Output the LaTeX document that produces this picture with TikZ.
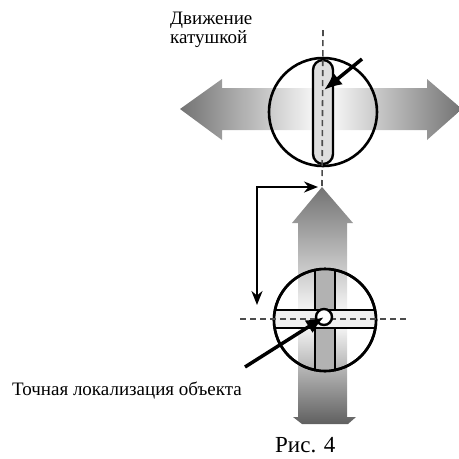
\documentclass[tikz,border=0pt]{standalone}
\usepackage{fontspec}
\setmainfont{Liberation Serif}
\usetikzlibrary{arrows.meta}
\begin{document}
\begin{tikzpicture}[x=1pt,y=-1pt,
  ring/.style={circle,draw,line width=2.6pt,inner sep=0pt,minimum size=#1},
  axis/.style={dashed,dash pattern=on 6pt off 4pt,gray!60!black,line width=1.6pt},
  ptr/.style={-{Latex[length=18pt,width=15pt]},line width=3.5pt},
  link/.style={{Stealth[length=14pt,width=11pt]}-{Stealth[length=14pt,width=11pt]},line width=2pt},
  lbl/.style={font=\fontsize{19}{19}\selectfont,align=left,inner sep=0pt}]
  \useasboundingbox (0,0) rectangle (459,459);
  % gorizontalnaya strelka
  \shade[left color=gray!90!black,right color=white]
    (180,109) -- (222,79) -- (222,88) -- (323,88) -- (323,130) -- (222,130) -- (222,140) -- cycle;
  \shade[right color=gray!90!black,left color=white]
    (462,109) -- (427,79) -- (427,88) -- (323,88) -- (323,130) -- (427,130) -- (427,140) -- cycle;
  % vertikalnaya strelka
  \coordinate (vtip) at (322,187);
  \shade[top color=gray!90!black,bottom color=white]
    (vtip) -- (353,223) -- (347,223) -- (347,320) -- (298,320) -- (298,223) -- (292,223) -- cycle;
  \shade[top color=white,bottom color=gray!75!black]
    (298,320) -- (347,320) -- (347,417) -- (356,417) -- (348,424) -- (302,424) -- (293,417) -- (298,417) -- cycle;
  % verkhnyaya katushka
  \draw[line width=2.4pt,fill=gray!25,rounded corners=10pt] (313,60) rectangle (333,164);
  \node[ring=108pt] (upper) at (323,112) {};
  \draw[axis] (323,30) -- (vtip);
  % nizhnyaya katushka
  \node[ring=102pt] (lower) at (325,320) {};
  \begin{scope}
    \clip (lower.center) circle (50pt);
    \draw[line width=2.4pt,fill=gray!60] (315,260) rectangle (335,380);
    \draw[line width=2.4pt,fill=gray!12] (265,310) rectangle (385,328);
  \end{scope}
  \node[ring=102pt] at (lower.center) {};
  \draw[axis] (240,319) -- (407,319);
  \node[circle,draw,line width=2.4pt,fill=white,minimum size=16pt,inner sep=0pt] (spot) at (324,317) {};
  % ukazateli
  \coordinate (p1) at (362,59);
  \coordinate (p2) at (245,367);
  \draw[ptr] (p1) -- (324,90);
  \draw[ptr] (p2) -- (spot.center);
  \coordinate (b1) at (257,305);
  \draw[link] (b1) |- ([xshift=-4pt]vtip);
  % podpisi
  \node[lbl,anchor=north west] (motion) at (170,12) {Движение\\катушкой};
  \node[lbl,anchor=base west] (exact) at (12,395) {Точная локализация объекта};
  \node[font=\fontsize{23}{24}\selectfont,inner sep=0pt,anchor=base west] (caption) at (275,452) {Рис. 4};
\end{tikzpicture}
\end{document}
